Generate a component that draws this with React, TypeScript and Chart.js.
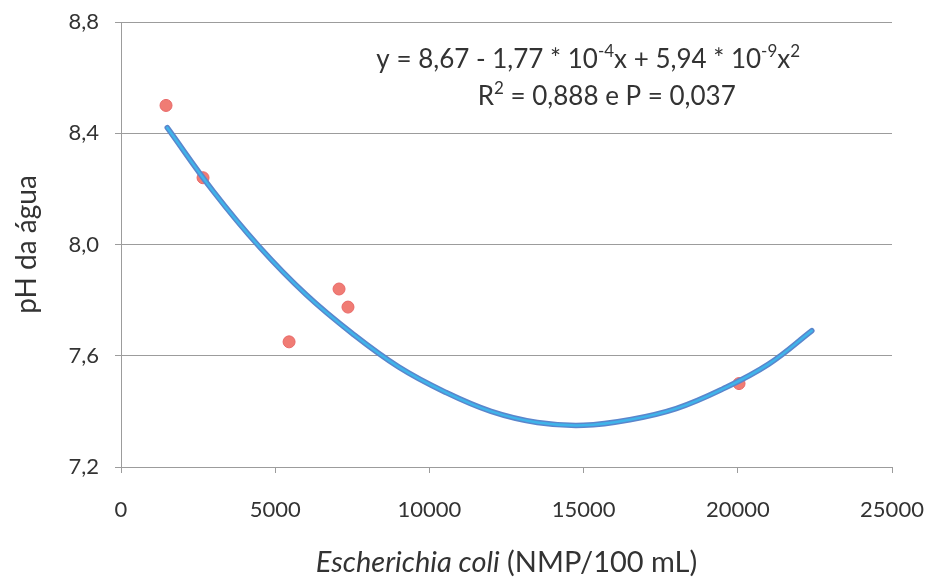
import React, { useEffect, useRef } from 'react';
import { Chart, registerables } from 'chart.js';

Chart.register(...registerables);

// Observed samples (E. coli NMP/100 mL, pH)
const obsX = [1460, 2660, 5450, 7070, 7360, 20040];
const obsY = [8.5, 8.24, 7.65, 7.84, 7.775, 7.5];

// Fitted curve
const fitX = [1500, 3000, 4500, 6000, 7500, 9000, 10500, 12000, 13500, 15000, 16500, 18000, 19500, 21000, 22400];
const fitY = [8.42, 8.19, 7.99, 7.82, 7.68, 7.56, 7.47, 7.4, 7.36, 7.35, 7.37, 7.41, 7.48, 7.57, 7.69];

const yTicks = [7.2, 7.6, 8.0, 8.4, 8.8];
const xTicks = [0, 5000, 10000, 15000, 20000, 25000];

const equationLines = ['y = 8,67 - 1,77 * 10⁻⁴x + 5,94 * 10⁻⁹x²', 'R² = 0,888 e P = 0,037'];
const xTitleItalic = 'Escherichia coli';
const xTitleRest = ' (NMP/100 mL)';
const yTitle = 'pH da água';

const FONT = 'Lato, "Open Sans", sans-serif';
const TEXT = '#333333';
const GRID = '#9c9c9c';

const SUP: Record<string, string> = { '⁻': '-', '⁴': '4', '⁹': '9', '²': '2' };

function drawRich(ctx: CanvasRenderingContext2D, text: string, cx: number, cy: number, size: number) {
  const base = `${size}px ${FONT}`;
  const small = `${Math.round(size * 0.64)}px ${FONT}`;
  const runs: { t: string; sup: boolean }[] = [];
  for (const ch of text) {
    const sup = ch in SUP;
    const c = sup ? SUP[ch] : ch;
    const last = runs[runs.length - 1];
    if (last && last.sup === sup) last.t += c;
    else runs.push({ t: c, sup });
  }
  let total = 0;
  const widths = runs.map((r) => {
    ctx.font = r.sup ? small : base;
    const w = ctx.measureText(r.t).width;
    total += w;
    return w;
  });
  let x = cx - total / 2;
  ctx.textAlign = 'left';
  ctx.textBaseline = 'middle';
  runs.forEach((r, i) => {
    ctx.font = r.sup ? small : base;
    ctx.fillText(r.t, x, r.sup ? cy - size * 0.32 : cy);
    x += widths[i];
  });
}

export default function App() {
  const ref = useRef<HTMLCanvasElement | null>(null);

  useEffect(() => {
    document.body.style.margin = '0';
    const canvas = ref.current;
    if (!canvas) return;

    const textPlugin = {
      id: 'textPlugin',
      afterDraw(chart: any) {
        const { ctx, chartArea } = chart;
        const w = chartArea.right - chartArea.left;
        ctx.save();
        ctx.fillStyle = TEXT;
        drawRich(ctx, equationLines[0], chartArea.left + w * 0.606, chartArea.top + 38, 26);
        drawRich(ctx, equationLines[1], chartArea.left + w * 0.63, chartArea.top + 75, 26);

        // x-axis title with italic part
        ctx.textAlign = 'left';
        ctx.textBaseline = 'middle';
        const italicFont = `italic 29px ${FONT}`;
        const normalFont = `29px ${FONT}`;
        ctx.font = italicFont;
        const w1 = ctx.measureText(xTitleItalic).width;
        ctx.font = normalFont;
        const w2 = ctx.measureText(xTitleRest).width;
        const cx = (chartArea.left + chartArea.right) / 2;
        const start = cx - (w1 + w2) / 2;
        const ty = chartArea.bottom + 96;
        ctx.font = italicFont;
        ctx.fillText(xTitleItalic, start, ty);
        ctx.font = normalFont;
        ctx.fillText(xTitleRest, start + w1, ty);
        ctx.restore();
      },
    };

    const chart = new Chart(canvas, {
      type: 'scatter',
      data: {
        datasets: [
          {
            label: 'fit-inner',
            data: fitX.map((x, i) => ({ x, y: fitY[i] })),
            showLine: true,
            borderColor: '#3fb4ea',
            borderWidth: 2.5,
            pointRadius: 0,
            tension: 0.4,
            borderCapStyle: 'round',
          },
          {
            label: 'fit-outer',
            data: fitX.map((x, i) => ({ x, y: fitY[i] })),
            showLine: true,
            borderColor: '#5a86cc',
            borderWidth: 5.5,
            pointRadius: 0,
            tension: 0.4,
            borderCapStyle: 'round',
          },
          {
            label: 'obs',
            data: obsX.map((x, i) => ({ x, y: obsY[i] })),
            showLine: false,
            backgroundColor: '#f07c74',
            borderColor: '#e86868',
            borderWidth: 1,
            pointRadius: 6,
          },
        ],
      },
      options: {
        animation: false,
        responsive: false,
        maintainAspectRatio: false,
        layout: { padding: { top: 22, right: 40, left: 0, bottom: 0 } },
        plugins: {
          legend: { display: false },
          tooltip: { enabled: false },
        },
        scales: {
          x: {
            type: 'linear',
            min: 0,
            max: 25000,
            afterBuildTicks: (scale: any) => {
              scale.ticks = xTicks.map((v) => ({ value: v }));
            },
            afterFit: (scale: any) => {
              scale.height = 115;
              scale.paddingLeft = 0;
              scale.paddingRight = 0;
            },
            ticks: {
              color: TEXT,
              font: { family: FONT, size: 22 },
              padding: 24,
              maxRotation: 0,
              callback: (v: any) => String(v),
            },
            grid: {
              display: true,
              drawOnChartArea: false,
              drawTicks: true,
              tickLength: 6,
              color: GRID,
            },
            border: { display: true, color: GRID, width: 1 },
          },
          y: {
            type: 'linear',
            min: 7.2,
            max: 8.8,
            afterBuildTicks: (scale: any) => {
              scale.ticks = yTicks.map((v) => ({ value: v }));
            },
            afterFit: (scale: any) => {
              scale.width = 121;
              scale.paddingTop = 0;
              scale.paddingBottom = 0;
            },
            ticks: {
              color: TEXT,
              font: { family: FONT, size: 22 },
              padding: 16,
              callback: (v: any) => Number(v).toFixed(1).replace('.', ','),
            },
            grid: {
              display: true,
              drawOnChartArea: true,
              drawTicks: true,
              tickLength: 6,
              color: GRID,
              lineWidth: 1,
            },
            border: { display: true, color: GRID, width: 1 },
            title: {
              display: true,
              text: yTitle,
              color: TEXT,
              font: { family: FONT, size: 28 },
              padding: { top: 10, bottom: 0 },
            },
          },
        },
      },
      plugins: [textPlugin],
    });

    return () => chart.destroy();
  }, []);

  return (
    <div style={{ position: 'relative', width: 932, height: 582, background: '#ffffff' }}>
      <canvas ref={ref} width={932} height={582} style={{ display: 'block' }} />
    </div>
  );
}
